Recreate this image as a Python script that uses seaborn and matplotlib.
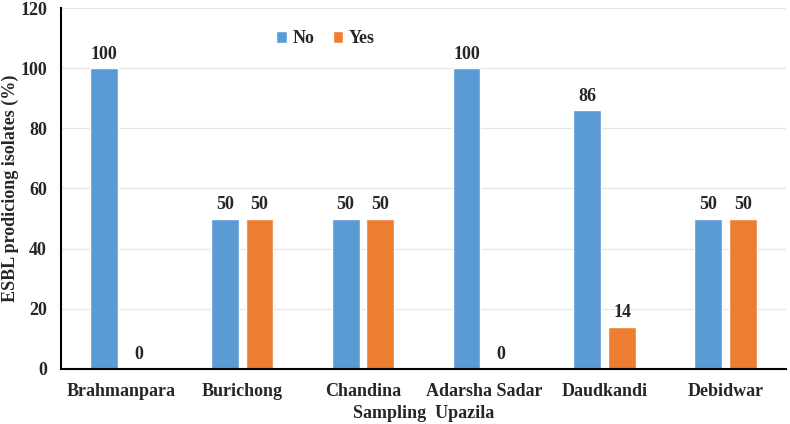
import matplotlib
matplotlib.use("Agg")
import matplotlib.pyplot as plt
import seaborn as sns
import pandas as pd

# data
upazilas = ["Brahmanpara", "Burichong", "Chandina", "Adarsha Sadar", "Daudkandi", "Debidwar"]
no_vals = [100, 50, 50, 100, 86, 50]
yes_vals = [0, 50, 50, 0, 14, 50]
groups = ["No", "Yes"]
colors = ["#5B9BD5", "#ED7D31"]
yticks = [0, 20, 40, 60, 80, 100, 120]

df = pd.DataFrame({
    "Upazila": upazilas * 2,
    "Group": ["No"] * len(upazilas) + ["Yes"] * len(upazilas),
    "Value": no_vals + yes_vals,
})

sns.set_style("white")
plt.rcParams["font.family"] = ["Liberation Serif", "DejaVu Serif"]
plt.rcParams["font.weight"] = "bold"
fs = 13

fig = plt.figure(figsize=(7.9, 4.24), dpi=100)
ax = fig.add_axes([0.077, 0.13, 0.918, 0.851])

sns.barplot(data=df, x="Upazila", y="Value", hue="Group", hue_order=groups,
            palette=colors, width=0.576, gap=0.2, saturation=1, ax=ax)

for cont in ax.containers:
    ax.bar_label(cont, fmt="%d", padding=4, fontsize=fs, fontweight="bold")

ax.set_ylim(0, 120)
ax.set_yticks(yticks)
ax.set_xlim(-0.5, len(upazilas) - 0.5)
ax.yaxis.grid(True, color="#E6E6E6", linewidth=0.9)
ax.set_axisbelow(True)
ax.tick_params(axis="x", length=0, labelsize=fs, pad=10)
ax.tick_params(axis="y", length=0, labelsize=fs, pad=10)
for lab in ax.get_xticklabels() + ax.get_yticklabels():
    lab.set_fontweight("bold")

sns.despine(ax=ax)
ax.spines["left"].set_color("black")
ax.spines["bottom"].set_color("black")
ax.spines["left"].set_linewidth(1.5)
ax.spines["bottom"].set_linewidth(1.5)

ax.set_xlabel("Sampling  Upazila", fontsize=fs, fontweight="bold")
ax.xaxis.set_label_coords(0.5, -0.1)
ax.set_ylabel("ESBL prodiciong isolates (%)", fontsize=fs, fontweight="bold")
ax.yaxis.set_label_coords(-0.057, 0.5)

ax.legend(title=None, loc="center", bbox_to_anchor=(0.365, 0.915), ncol=2,
          frameon=False, handlelength=0.6, handleheight=0.6, handletextpad=0.3,
          columnspacing=1.0, prop={"weight": "bold", "size": fs})

fig.savefig("out.png", dpi=100)
